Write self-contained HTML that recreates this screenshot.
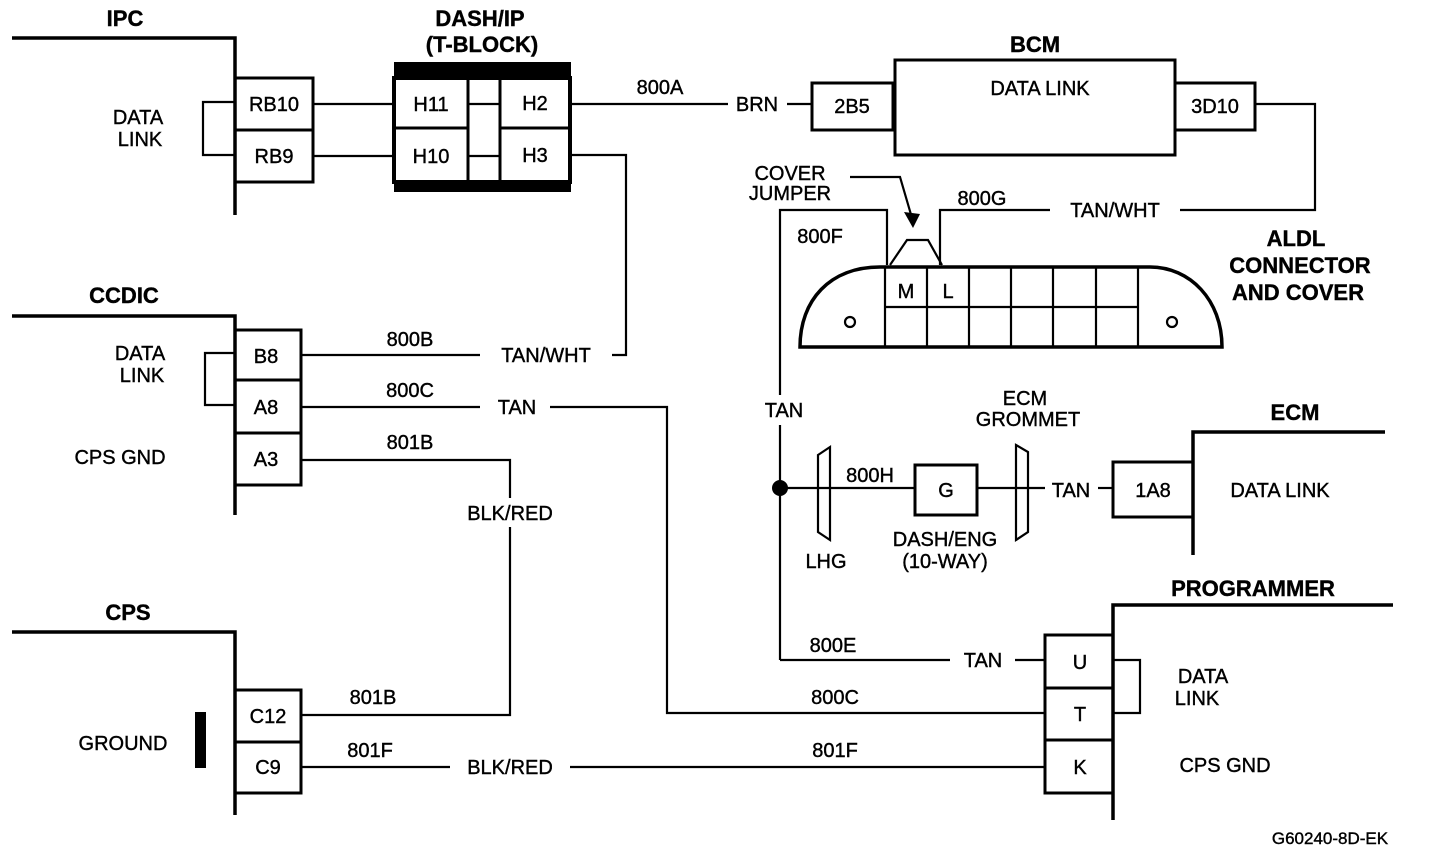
<!DOCTYPE html>
<html><head><meta charset="utf-8"><style>
html,body{margin:0;padding:0;background:#fff}
svg{display:block}
text{font-family:"Liberation Sans",Arial,sans-serif;font-size:20px;fill:#000;stroke:#000;stroke-width:0.4}
.h{font-weight:bold;font-size:22px}
.t{text-anchor:middle}
</style></head><body>
<svg width="1440" height="852" viewBox="0 0 1440 852" xmlns="http://www.w3.org/2000/svg">
<g fill="none" stroke="#000" stroke-width="2.2">
<polyline points="12,38 235,38 235,215" stroke-width="3.5"/>
<rect x="235" y="78" width="78" height="52" stroke-width="3"/>
<rect x="235" y="130" width="78" height="52" stroke-width="3"/>
<polyline points="235,102 203,102 203,155 235,155"/>
<line x1="313" y1="104" x2="395" y2="104"/>
<line x1="313" y1="156" x2="395" y2="156"/>
<rect x="394" y="78" width="176" height="104" stroke-width="4"/>
<line x1="468" y1="78" x2="468" y2="182" stroke-width="3"/>
<line x1="500" y1="78" x2="500" y2="182" stroke-width="3"/>
<line x1="394" y1="128" x2="468" y2="128" stroke-width="3"/>
<line x1="500" y1="128" x2="570" y2="128" stroke-width="3"/>
<line x1="468" y1="104" x2="500" y2="104"/>
<line x1="468" y1="156" x2="500" y2="156"/>
<line x1="570" y1="104" x2="728" y2="104"/>
<line x1="787" y1="104" x2="812" y2="104"/>
<rect x="812" y="83" width="81" height="47" stroke-width="3"/>
<rect x="895" y="60" width="280" height="95" stroke-width="3"/>
<rect x="1175" y="83" width="80" height="47" stroke-width="3"/>
<polyline points="1255,104 1315,104 1315,210 1180,210"/>
<polyline points="1050,210 940,210 940,265"/>
<polyline points="780,395 780,210 887,210 887,265"/>
<line x1="780" y1="425" x2="780" y2="660"/>
<polyline points="890,265 907,240 928,240 942,265"/>
<polyline points="850,177 900,177 912,218"/>
<path d="M800,347 L1222,347 C1222,300 1190,267 1150,267 L880,267 C830,267 800,300 800,347 Z" stroke-width="3.5"/>
<line x1="885" y1="267" x2="885" y2="347"/>
<line x1="927" y1="267" x2="927" y2="347"/>
<line x1="969" y1="267" x2="969" y2="347"/>
<line x1="1011" y1="267" x2="1011" y2="347"/>
<line x1="1053" y1="267" x2="1053" y2="347"/>
<line x1="1096" y1="267" x2="1096" y2="347"/>
<line x1="1138" y1="267" x2="1138" y2="347"/>
<line x1="885" y1="307" x2="1138" y2="307"/>
<circle cx="850" cy="322" r="5"/>
<circle cx="1172" cy="322" r="5"/>
<line x1="780" y1="488" x2="915" y2="488"/>
<path d="M818,455 L830,447 L830,540 L818,532 Z"/>
<rect x="915" y="465" width="62" height="50" stroke-width="3"/>
<line x1="977" y1="488" x2="1045" y2="488"/>
<path d="M1016,445 L1028,452 L1028,532 L1016,540 Z"/>
<line x1="1098" y1="488" x2="1113" y2="488"/>
<rect x="1113" y="462" width="80" height="55" stroke-width="3"/>
<polyline points="1193,555 1193,432 1385,432" stroke-width="3.5"/>
<polyline points="12,316 235,316 235,515" stroke-width="3.5"/>
<rect x="235" y="330" width="66" height="50" stroke-width="3"/>
<rect x="235" y="380" width="66" height="53" stroke-width="3"/>
<rect x="235" y="433" width="66" height="52" stroke-width="3"/>
<polyline points="235,353 205,353 205,405 235,405"/>
<line x1="301" y1="355" x2="480" y2="355"/>
<polyline points="612,355 626,355 626,155 570,155"/>
<line x1="301" y1="407" x2="480" y2="407"/>
<polyline points="550,407 667,407 667,713 1045,713"/>
<polyline points="301,460 510,460 510,498"/>
<polyline points="510,527 510,715 301,715"/>
<polyline points="12,632 235,632 235,815" stroke-width="3.5"/>
<rect x="235" y="690" width="66" height="52" stroke-width="3"/>
<rect x="235" y="742" width="66" height="51" stroke-width="3"/>
<line x1="301" y1="767" x2="450" y2="767"/>
<line x1="570" y1="767" x2="1045" y2="767"/>
<polyline points="1113,820 1113,605 1393,605" stroke-width="3.5"/>
<rect x="1045" y="635" width="68" height="53" stroke-width="3"/>
<rect x="1045" y="688" width="68" height="52" stroke-width="3"/>
<rect x="1045" y="740" width="68" height="53" stroke-width="3"/>
<polyline points="1113,660 1140,660 1140,713 1113,713"/>
<polyline points="780,660 950,660"/>
<line x1="1015" y1="660" x2="1045" y2="660"/>
</g>
<rect x="394" y="62" width="177" height="16" fill="#000"/>
<rect x="394" y="180" width="177" height="12" fill="#000"/>
<rect x="195" y="712" width="11" height="56" fill="#000"/>
<polygon points="904,212 920,214 913,228" fill="#000"/>
<circle cx="780" cy="488" r="8" fill="#000"/>
<g>
<text class="h t" x="125" y="26">IPC</text>
<text class="h t" x="480" y="26">DASH/IP</text>
<text class="h t" x="482" y="52">(T-BLOCK)</text>
<text class="t" x="138" y="124">DATA</text>
<text class="t" x="140" y="146">LINK</text>
<text class="t" x="274" y="111">RB10</text>
<text class="t" x="274" y="163">RB9</text>
<text class="t" x="431" y="111">H11</text>
<text class="t" x="431" y="163">H10</text>
<text class="t" x="535" y="110">H2</text>
<text class="t" x="535" y="162">H3</text>
<text class="t" x="660" y="94">800A</text>
<text class="t" x="757" y="111">BRN</text>
<text class="t" x="852" y="113">2B5</text>
<text class="h t" x="1035" y="52">BCM</text>
<text class="t" x="1040" y="95">DATA LINK</text>
<text class="t" x="1215" y="113">3D10</text>
<text class="t" x="790" y="180">COVER</text>
<text class="t" x="790" y="200">JUMPER</text>
<text class="t" x="982" y="205">800G</text>
<text class="t" x="1115" y="217">TAN/WHT</text>
<text class="t" x="820" y="243">800F</text>
<text class="h t" x="1296" y="246">ALDL</text>
<text class="h t" x="1300" y="273">CONNECTOR</text>
<text class="h t" x="1298" y="300">AND COVER</text>
<text class="t" x="906" y="298">M</text>
<text class="t" x="948" y="298">L</text>
<text class="t" x="784" y="417">TAN</text>
<text class="t" x="1025" y="405">ECM</text>
<text class="t" x="1028" y="426">GROMMET</text>
<text class="h t" x="1295" y="420">ECM</text>
<text class="t" x="870" y="482">800H</text>
<text class="t" x="946" y="497">G</text>
<text class="t" x="1071" y="497">TAN</text>
<text class="t" x="1153" y="497">1A8</text>
<text class="t" x="1280" y="497">DATA LINK</text>
<text class="t" x="826" y="568">LHG</text>
<text class="t" x="945" y="546">DASH/ENG</text>
<text class="t" x="945" y="568">(10-WAY)</text>
<text class="h t" x="124" y="303">CCDIC</text>
<text class="t" x="140" y="360">DATA</text>
<text class="t" x="142" y="382">LINK</text>
<text class="t" x="120" y="464">CPS GND</text>
<text class="t" x="266" y="363">B8</text>
<text class="t" x="266" y="414">A8</text>
<text class="t" x="266" y="466">A3</text>
<text class="t" x="410" y="346">800B</text>
<text class="t" x="546" y="362">TAN/WHT</text>
<text class="t" x="410" y="397">800C</text>
<text class="t" x="517" y="414">TAN</text>
<text class="t" x="410" y="449">801B</text>
<text class="t" x="510" y="520">BLK/RED</text>
<text class="h t" x="128" y="620">CPS</text>
<text class="t" x="123" y="750">GROUND</text>
<text class="t" x="268" y="723">C12</text>
<text class="t" x="268" y="774">C9</text>
<text class="t" x="373" y="704">801B</text>
<text class="t" x="370" y="757">801F</text>
<text class="t" x="510" y="774">BLK/RED</text>
<text class="t" x="835" y="704">800C</text>
<text class="t" x="835" y="757">801F</text>
<text class="t" x="833" y="652">800E</text>
<text class="t" x="983" y="667">TAN</text>
<text class="h t" x="1253" y="596">PROGRAMMER</text>
<text class="t" x="1080" y="669">U</text>
<text class="t" x="1080" y="721">T</text>
<text class="t" x="1080" y="774">K</text>
<text class="t" x="1203" y="683">DATA</text>
<text class="t" x="1197" y="705">LINK</text>
<text class="t" x="1225" y="772">CPS GND</text>
<text class="t" x="1330" y="844" style="font-size:17px">G60240-8D-EK</text>
</g>
</svg>
</body></html>
